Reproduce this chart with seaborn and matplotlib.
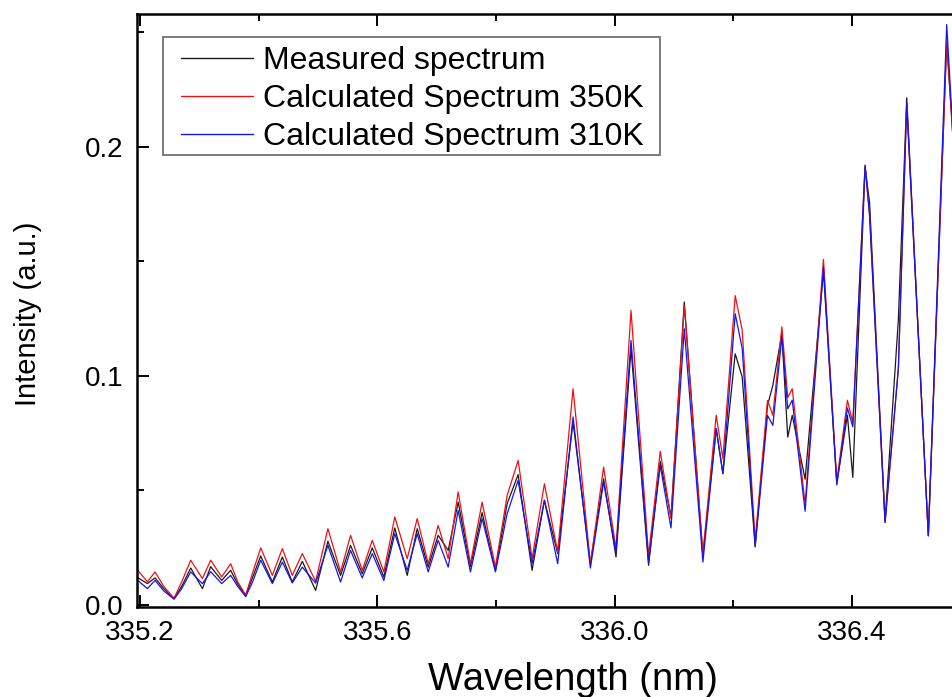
import numpy as np
import pandas as pd
import matplotlib
matplotlib.use("Agg")
import matplotlib.pyplot as plt
import seaborn as sns
from matplotlib.ticker import MultipleLocator
from matplotlib.patches import Rectangle

# wavelength grid (nm): peaks, troughs and shoulders
wavelength = [
    335.1963, 335.2126, 335.2254, 335.2401, 335.2574, 335.2704, 335.2856, 335.3053,
    335.3192, 335.3378, 335.3529, 335.3647, 335.3782, 335.3900, 335.4035, 335.4232,
    335.4400, 335.4568, 335.4737, 335.4961, 335.5168, 335.5382, 335.5550, 335.5747,
    335.5916, 335.6111, 335.6296, 335.6505, 335.6674, 335.6859, 335.7027, 335.7196,
    335.7364, 335.7571, 335.7768, 335.7992, 335.8190, 335.8375, 335.8610, 335.8818,
    335.9042, 335.9301, 335.9593, 335.9816, 336.0025, 336.0278, 336.0574, 336.0771,
    336.0952, 336.1176, 336.1490, 336.1714, 336.1827, 336.2034, 336.2152, 336.2371,
    336.2579, 336.2669, 336.2821, 336.2920, 336.2996, 336.3213, 336.3522, 336.3747,
    336.3926, 336.4017, 336.4224, 336.4300, 336.4561, 336.4785, 336.4926, 336.5290,
    336.5600, 336.5740,
]

measured = [
    0.0118, 0.0092, 0.0117, 0.0070, 0.0026, 0.0080, 0.0160, 0.0070,
    0.0166, 0.0106, 0.0150, 0.0090, 0.0039, 0.0120, 0.0213, 0.0099,
    0.0208, 0.0099, 0.0189, 0.0062, 0.0277, 0.0128, 0.0259, 0.0135,
    0.0248, 0.0121, 0.0335, 0.0128, 0.0332, 0.0164, 0.0303, 0.0237,
    0.0448, 0.0166, 0.0402, 0.0150, 0.0441, 0.0568, 0.0150, 0.0456,
    0.0223, 0.0798, 0.0179, 0.0550, 0.0208, 0.1118, 0.0172, 0.0626,
    0.0383, 0.1322, 0.0215, 0.0769, 0.0572, 0.1096, 0.0995, 0.0252,
    0.0870, 0.0958, 0.1183, 0.0732, 0.0827, 0.0548, 0.1459, 0.0531,
    0.0827, 0.0556, 0.1910, 0.1755, 0.0365, 0.1245, 0.2214, 0.0301,
    0.2460, 0.1900,
]

calc_350 = [
    0.0150, 0.0100, 0.0143, 0.0080, 0.0028, 0.0100, 0.0194, 0.0114,
    0.0194, 0.0121, 0.0179, 0.0100, 0.0042, 0.0140, 0.0248, 0.0128,
    0.0245, 0.0128, 0.0223, 0.0102, 0.0332, 0.0143, 0.0303, 0.0150,
    0.0281, 0.0143, 0.0383, 0.0201, 0.0376, 0.0179, 0.0346, 0.0201,
    0.0492, 0.0179, 0.0448, 0.0164, 0.0477, 0.0630, 0.0201, 0.0528,
    0.0230, 0.0943, 0.0179, 0.0601, 0.0245, 0.1285, 0.0215, 0.0670,
    0.0376, 0.1307, 0.0223, 0.0827, 0.0638, 0.1350, 0.1200, 0.0281,
    0.0892, 0.0827, 0.1213, 0.0905, 0.0943, 0.0441, 0.1508, 0.0539,
    0.0893, 0.0794, 0.1919, 0.1700, 0.0359, 0.1032, 0.2190, 0.0301,
    0.2460, 0.1900,
]

calc_310 = [
    0.0106, 0.0070, 0.0106, 0.0060, 0.0024, 0.0070, 0.0143, 0.0092,
    0.0144, 0.0092, 0.0128, 0.0080, 0.0035, 0.0100, 0.0194, 0.0092,
    0.0186, 0.0095, 0.0164, 0.0094, 0.0259, 0.0099, 0.0237, 0.0117,
    0.0223, 0.0106, 0.0310, 0.0150, 0.0310, 0.0143, 0.0281, 0.0164,
    0.0412, 0.0143, 0.0376, 0.0143, 0.0397, 0.0543, 0.0179, 0.0456,
    0.0179, 0.0820, 0.0160, 0.0536, 0.0230, 0.1154, 0.0186, 0.0608,
    0.0335, 0.1205, 0.0186, 0.0769, 0.0572, 0.1271, 0.1120, 0.0256,
    0.0827, 0.0783, 0.1169, 0.0856, 0.0893, 0.0408, 0.1475, 0.0523,
    0.0859, 0.0777, 0.1919, 0.1700, 0.0359, 0.1032, 0.2190, 0.0301,
    0.2534, 0.1900,
]

labels = ["Measured spectrum", "Calculated Spectrum 350K", "Calculated Spectrum 310K"]
colors = ["#1a1a1a", "#ee1111", "#1515ee"]

sns.set_theme(style="ticks")
plt.rcParams["font.family"] = ["Liberation Sans", "DejaVu Sans"]
plt.rcParams["text.color"] = "black"
plt.rcParams["axes.labelcolor"] = "black"

fig = plt.figure(figsize=(9.52, 6.97), dpi=100)
# axes box in pixels: left 137, right ~953 (cropped), top 14, bottom 606.5
ax = fig.add_axes([137 / 952, (697 - 606.5) / 697, (953 - 137) / 952, (606.5 - 14) / 697])

for ys, lab, col in zip([measured, calc_350, calc_310], labels, colors):
    df = pd.DataFrame({"wl": wavelength, "I": ys})
    sns.lineplot(data=df, x="wl", y="I", ax=ax, color=col, lw=0.9, label=lab,
                 sort=False, estimator=None)

ax.set_xlim(335.1950, 336.5706)
ax.set_ylim(-0.0008, 0.2580)

ax.xaxis.set_minor_locator(MultipleLocator(0.2))
ax.yaxis.set_minor_locator(MultipleLocator(0.05))
ax.set_xticks([335.2, 335.6, 336.0, 336.4])
ax.set_xticklabels(["335.2", "335.6", "336.0", "336.4"])
ax.set_yticks([0.0, 0.1, 0.2])
ax.set_yticklabels(["0.0", "0.1", "0.2"])

ax.tick_params(which="both", direction="in", top=True, right=False, width=1.4,
               colors="black", labelsize=20)
ax.tick_params(which="major", length=8.5)
ax.tick_params(which="minor", length=5)
ax.tick_params(axis="x", pad=10)
ax.tick_params(axis="y", pad=10)
for sp in ax.spines.values():
    sp.set_visible(True)
    sp.set_linewidth(1.8)
    sp.set_color("black")

ax.set_xlabel("Wavelength (nm)", fontsize=27.5)
ax.set_ylabel("Intensity (a.u.)", fontsize=21)
ax.xaxis.set_label_coords((573 - 137) / 816, -(662 - 606.5) / 592.5)
ax.yaxis.set_label_coords(-(137 - 42) / 816, (606.5 - 314) / 592.5)

# legend: frame drawn separately so the wide left padding matches
leg = ax.legend(loc="upper left", bbox_to_anchor=((181 - 137) / 816, (606.5 - 46) / 592.5),
                borderaxespad=0, fontsize=23, frameon=False,
                labelspacing=0.25, handlelength=2.25, handletextpad=0.32,
                borderpad=0)
for h in leg.get_lines():
    h.set_linewidth(1.0)
ax.add_patch(Rectangle(((163 - 137) / 816, (606.5 - 155) / 592.5),
                       (660 - 163) / 816, (155 - 37) / 592.5,
                       transform=ax.transAxes, fill=False, edgecolor="#707070",
                       lw=1.3, zorder=5))

fig.savefig("out.png", dpi=100, facecolor="white")
